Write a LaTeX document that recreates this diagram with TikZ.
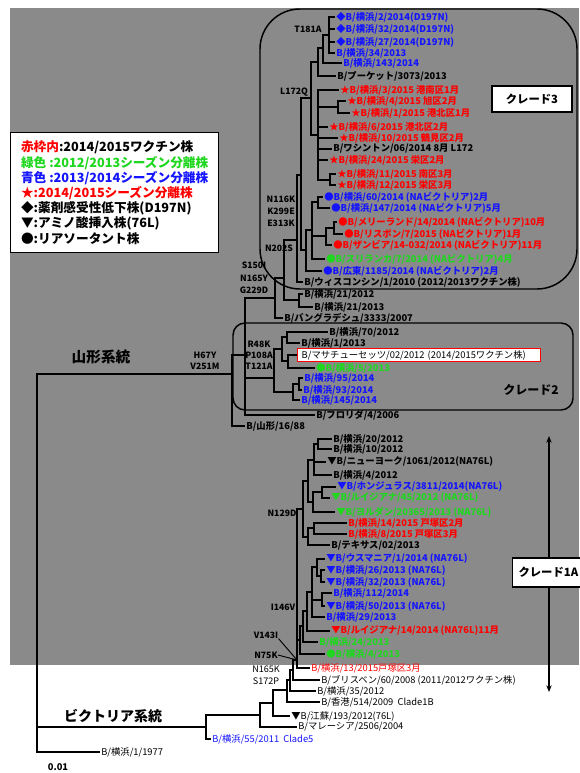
\documentclass[tikz,border=0pt]{standalone}
\usepackage{fontspec}
\setmainfont{Noto Sans CJK JP}
\usetikzlibrary{arrows.meta}
\definecolor{bggray}{RGB}{138,138,138}
\definecolor{myred}{RGB}{255,0,0}
\definecolor{mygreen}{RGB}{30,215,30}
\definecolor{myblue}{RGB}{20,20,255}
\tikzset{
  br/.style={line width=1pt, black},
  leaf/.style={anchor=west, inner sep=0.8pt, font=\fontsize{7}{8}\selectfont\bfseries},
  wleaf/.style={anchor=west, inner sep=0.8pt, font=\fontsize{7}{8}\selectfont},
  mut/.style={inner sep=0pt, font=\fontsize{6.5}{7}\selectfont\bfseries},
  wmut/.style={inner sep=0pt, font=\fontsize{6.8}{7}\selectfont},
  cladebox/.style={line width=1.1pt, black},
}
\newcommand{\myleaf}[5]{\node[leaf,text=#4] (#1) at (#2,#3) {#5};}
\newcommand{\mywleaf}[5]{\node[wleaf,text=#4] (#1) at (#2,#3) {#5};}
\newcommand{\kids}[2]{\foreach \cc in {#2}{\draw[br] (#1) |- (\cc);}}
\begin{document}
\begin{tikzpicture}[x=0.75pt,y=-0.75pt]
\useasboundingbox (0,0) rectangle (579,773);
\fill[white] (0,0) rectangle (579,773);
\fill[bggray] (10,8) rectangle (579,665);

% clade boxes
\draw[cladebox, rounded corners=30pt] (260,9) rectangle (577,289);
\draw[cladebox, rounded corners=9pt] (233,323) rectangle (573,410);

% legend
\node[draw, fill=white, line width=1pt, anchor=north west, align=left,
      minimum width=156pt, minimum height=90pt, inner xsep=6pt,
      font=\fontsize{9.5}{11.4}\selectfont\bfseries] (legend) at (10,132) {%
{\color{myred}赤枠内}:2014/2015ワクチン株\\
{\color{mygreen}緑色 :2012/2013シーズン分離株}\\
{\color{myblue}青色 :2013/2014シーズン分離株}\\
{\color{myred}★:2014/2015シーズン分離株}\\
◆:薬剤感受性低下株(D197N)\\
▼:アミノ酸挿入株(76L)\\
●:リアソータント株};

% clade 3 leaves
\myleaf{l1}{335}{17}{myblue}{◆B/横浜/2/2014(D197N)}
\myleaf{l2}{335}{29}{myblue}{◆B/横浜/32/2014(D197N)}
\myleaf{l3}{335}{42}{myblue}{◆B/横浜/27/2014(D197N)}
\myleaf{l4}{335}{53}{myblue}{B/横浜/34/2013}
\myleaf{l5}{342}{63}{myblue}{B/横浜/143/2014}
\myleaf{l6}{336}{76}{black}{B/プーケット/3073/2013}
\myleaf{l7}{339}{90}{myred}{★B/横浜/3/2015 港南区1月}
\myleaf{l8}{346}{101}{myred}{★B/横浜/4/2015 旭区2月}
\myleaf{l9}{350}{113}{myred}{★B/横浜/1/2015 港北区1月}
\myleaf{l10}{328}{127}{myred}{★B/横浜/6/2015 港北区2月}
\myleaf{l11}{338}{138}{myred}{★B/横浜/10/2015 鶴見区2月}
\myleaf{l12}{332}{149}{black}{B/ワシントン/06/2014 8月 L172}
\myleaf{l13}{328}{160}{myred}{★B/横浜/24/2015 栄区2月}
\myleaf{l14}{336}{174}{myred}{★B/横浜/11/2015 南区3月}
\myleaf{l15}{336}{185}{myred}{★B/横浜/12/2015 栄区3月}
\myleaf{l16}{323}{197}{myblue}{●B/横浜/60/2014 (NAビクトリア)2月}
\myleaf{l17}{330}{208}{myblue}{●B/横浜/147/2014 (NAビクトリア)5月}
\myleaf{l18}{337}{222}{myred}{●B/メリーランド/14/2014 (NAビクトリア)10月}
\myleaf{l19}{343}{234}{myred}{●B/リスボン/7/2015 (NAビクトリア)1月}
\myleaf{l20}{332}{245}{myred}{●B/ザンビア/14-032/2014 (NAビクトリア)11月}
\myleaf{l21}{325}{259}{mygreen}{●B/スリランカ/7/2014 (NAビクトリア)4月}
\myleaf{l22}{322}{271}{myblue}{●B/広東/1185/2014 (NAビクトリア)2月}
\myleaf{l23}{303}{282}{black}{B/ウィスコンシン/1/2010 (2012/2013ワクチン株)}
\myleaf{l24}{303}{294}{black}{B/横浜/21/2012}
\myleaf{l25}{313}{307}{black}{B/横浜/21/2013}
\myleaf{l26}{283}{318}{black}{B/バングラデシュ/3333/2007}

% clade 2 leaves
\myleaf{l27}{328}{332}{black}{B/横浜/70/2012}
\myleaf{l28}{300}{343}{black}{B/横浜/1/2013}
\node[wleaf, draw=myred, fill=white, line width=1.1pt, inner xsep=3pt, inner ysep=1.2pt,
      text width=176pt, align=left] (l29) at (297,355) {B/マサチューセッツ/02/2012 (2014/2015ワクチン株)};
\myleaf{l30}{315}{368}{mygreen}{●B/横浜/5/2013}
\myleaf{l31}{303}{378}{myblue}{B/横浜/95/2014}
\myleaf{l32}{302}{390}{myblue}{B/横浜/93/2014}
\myleaf{l33}{300}{400}{myblue}{B/横浜/145/2014}
\myleaf{l34}{315}{415}{black}{B/フロリダ/4/2006}
\myleaf{l35}{245}{426}{black}{B/山形/16/88}

% clade 1A leaves
\myleaf{l36}{332}{439}{black}{B/横浜/20/2012}
\myleaf{l37}{332}{449}{black}{B/横浜/10/2012}
\myleaf{l38}{326}{462}{black}{▼B/ニューヨーク/1061/2012(NA76L)}
\myleaf{l39}{332}{475}{black}{B/横浜/4/2012}
\myleaf{l40}{336}{487}{myblue}{▼B/ホンジュラス/3811/2014(NA76L)}
\myleaf{l41}{330}{498}{mygreen}{▼B/ルイジアナ/45/2012 (NA76L)}
\myleaf{l42}{335}{512}{mygreen}{▼B/ヨルダン/20365/2013 (NA76L)}
\myleaf{l43}{347}{523}{myred}{B/横浜/14/2015 戸塚区2月}
\myleaf{l44}{347}{534}{myred}{B/横浜/8/2015 戸塚区3月}
\myleaf{l45}{330}{545}{black}{B/テキサス/02/2013}
\myleaf{l46}{325}{559}{myblue}{▼B/ウスマニア/1/2014 (NA76L)}
\myleaf{l47}{325}{570}{myblue}{▼B/横浜/26/2013 (NA76L)}
\myleaf{l48}{325}{582}{myblue}{▼B/横浜/32/2013 (NA76L)}
\myleaf{l49}{332}{593}{myblue}{B/横浜/112/2014}
\myleaf{l50}{325}{606}{myblue}{▼B/横浜/50/2013 (NA76L)}
\myleaf{l51}{325}{617}{myblue}{B/横浜/29/2013}
\myleaf{l52}{330}{631}{myred}{▼B/ルイジアナ/14/2014 (NA76L)11月}
\myleaf{l53}{318}{642}{mygreen}{B/横浜/24/2013}
\myleaf{l54}{325}{654}{mygreen}{●B/横浜/4/2013}
\mywleaf{l55}{310}{668}{myred}{B/横浜/13/2015戸塚区3月}
\mywleaf{l56}{320}{680}{black}{B/ブリスベン/60/2008 (2011/2012ワクチン株)}
\mywleaf{l57}{316}{691}{black}{B/横浜/35/2012}
\mywleaf{l58}{320}{702}{black}{B/香港/514/2009\ \ Clade1B}
\mywleaf{l59}{290}{716}{black}{▼B/江蘇/193/2012(76L)}
\mywleaf{l60}{297}{727}{black}{B/マレーシア/2506/2004}
\mywleaf{l61}{211}{739}{myblue}{B/横浜/55/2011\ \ Clade5}
\mywleaf{l62}{100}{752}{black}{B/横浜/1/1977}

% internal nodes
\coordinate (c3a) at (329,35);
\coordinate (c3b) at (323,48);
\coordinate (c3c) at (318,62);
\coordinate (R1) at (338,107);
\coordinate (R2) at (330,180);
\coordinate (R) at (318,135);
\coordinate (c3d) at (311,98);
\coordinate (V1) at (318,202);
\coordinate (V2) at (334,228);
\coordinate (V3) at (326,236);
\coordinate (V4) at (312,230);
\coordinate (V5) at (306,250);
\coordinate (k3) at (301,175);
\coordinate (W) at (297,240);
\coordinate (Y1) at (299,300);
\coordinate (S) at (284,278);
\coordinate (Bn) at (275,298);
\coordinate (n2a) at (299,384);
\coordinate (n2b) at (293,392);
\coordinate (n2d) at (287,337);
\coordinate (n2e) at (288,361);
\coordinate (n2c) at (282,349);
\coordinate (n2) at (274,378);
\coordinate (Ym) at (245,355);
\coordinate (Yr) at (232,374);
\coordinate (a1) at (318,444);
\coordinate (a2) at (314,460);
\coordinate (a3) at (322,492);
\coordinate (a4) at (313,502);
\coordinate (a5) at (308,481);
\coordinate (a6) at (314,528);
\coordinate (a7) at (308,537);
\coordinate (a8) at (303,509);
\coordinate (b1) at (321,576);
\coordinate (b2) at (317,567);
\coordinate (b3) at (322,600);
\coordinate (b4) at (312,592);
\coordinate (b5) at (307,611);
\coordinate (b6) at (303,626);
\coordinate (b7) at (300,640);
\coordinate (q1) at (297,660);
\coordinate (q2) at (293,670);
\coordinate (q3) at (290,680);
\coordinate (q4) at (287,690);
\coordinate (q5) at (273,703);
\coordinate (q6) at (260,715);
\coordinate (q7) at (206,727);
\coordinate (root) at (37,560);

% branches
\kids{c3a}{l1.west,l2.west,l3.west,l4.west}
\kids{c3b}{c3a,l5.west}
\kids{c3c}{c3b,l6.west}
\kids{R1}{l8.west,l9.west}
\kids{R2}{l14.west,l15.west}
\kids{R}{l7.west,R1,l10.west,l11.west,l12.west,l13.west,R2}
\kids{c3d}{c3c,R}
\kids{V1}{l16.west,l17.west}
\kids{V2}{l18.west,l19.west}
\kids{V3}{V2,l20.west}
\kids{V4}{V1,V3,l21.west}
\kids{V5}{V4,l22.west}
\kids{k3}{c3d,V5}
\kids{W}{k3,l23.west}
\kids{Y1}{l24.west,l25.west}
\kids{S}{W,Y1}
\kids{Bn}{S,l26.west}
\kids{n2a}{l31.west,l32.west}
\kids{n2b}{n2a,l33.west}
\kids{n2d}{l27.west,l28.west}
\kids{n2e}{l29.west,l30.west}
\kids{n2c}{n2d,n2e}
\kids{n2}{n2c,n2b}
\kids{Ym}{Bn,n2,l34.west}
\kids{Yr}{Ym,l35.west}
\kids{a1}{l36.west,l37.west}
\kids{a2}{a1,l38.west,l39.west}
\kids{a3}{l40.west,l41.west}
\kids{a4}{a3,l42.west}
\kids{a5}{a2,a4}
\kids{a6}{l43.west,l44.west}
\kids{a7}{a6,l45.west}
\kids{a8}{a5,a7}
\kids{b1}{l47.west,l48.west}
\kids{b2}{l46.west,b1}
\kids{b3}{l49.west,l50.west}
\kids{b4}{b2,b3,l51.west}
\kids{b5}{b4,l52.west}
\kids{b6}{b5,l53.west}
\kids{b7}{b6,l54.west}
\kids{q1}{a8,b7,l55.west}
\kids{q2}{q1,l56.west}
\kids{q3}{q2,l57.west}
\kids{q4}{q3,l58.west}
\kids{q5}{q4,l59.west}
\kids{q6}{q5,l60.west}
\kids{q7}{q6,l61.west}
\kids{root}{Yr,q7,l62.west}

% mutation labels
\node[mut] (mT181A) at (308,29) {T181A};
\node[mut] (mL172Q) at (294,92) {L172Q};
\node[mut] (mN116K) at (281,199) {N116K};
\node[mut] (mK299E) at (281,211) {K299E};
\node[mut] (mE313K) at (281,223) {E313K};
\node[mut] (mN202S) at (279,248) {N202S};
\node[mut] (mS150I) at (254,265) {S150I};
\node[mut] (mN165Y) at (254,278) {N165Y};
\node[mut] (mG229D) at (254,290) {G229D};
\node[mut] (mH67Y) at (205,355) {H67Y};
\node[mut] (mV251M) at (205,366) {V251M};
\node[mut] (mR48K) at (259,344) {R48K};
\node[mut] (mP108A) at (259,355) {P108A};
\node[mut] (mT121A) at (259,366) {T121A};
\node[mut] (mN129D) at (282,513) {N129D};
\node[mut] (mI146V) at (283,607) {I146V};
\node[mut] (mV143) at (266,635) {V143I};
\node[mut] (mN75K) at (266,655) {N75K};
\node[wmut] (mN165K) at (266,669) {N165K};
\node[wmut] (mS172P) at (266,681) {S172P};
\draw[line width=0.7pt] (mV143.south east) -- (q1);
\draw[line width=0.7pt] (mN75K.east) -- (q1);

% headings
\node[font=\fontsize{11}{12}\selectfont\bfseries] (hY) at (101,357) {山形系統};
\node[font=\fontsize{10.5}{12}\selectfont\bfseries] (hV) at (113,716) {ビクトリア系統};
\node[font=\fontsize{7}{8}\selectfont\bfseries] (scale) at (58,767) {0.01};

% clade labels
\node[draw, fill=white, line width=0.8pt, minimum width=60pt, minimum height=19.5pt,
      font=\fontsize{8.5}{9}\selectfont\bfseries] (cl3) at (532,99) {クレード3};
\node[font=\fontsize{9}{10}\selectfont\bfseries] (cl2) at (531,390) {クレード2};
\coordinate (arrT) at (549,436);
\coordinate (arrB) at (549,692);
\draw[line width=0.8pt, {Stealth[length=5pt,width=4pt]}-{Stealth[length=5pt,width=4pt]}] (arrT) -- (arrB);
\node[draw, fill=white, line width=0.8pt, anchor=west, minimum height=21.75pt, inner xsep=4.5pt,
      font=\fontsize{8.5}{9}\selectfont\bfseries] (cl1A) at (512,572.5) {クレード1A};
\end{tikzpicture}
\end{document}
